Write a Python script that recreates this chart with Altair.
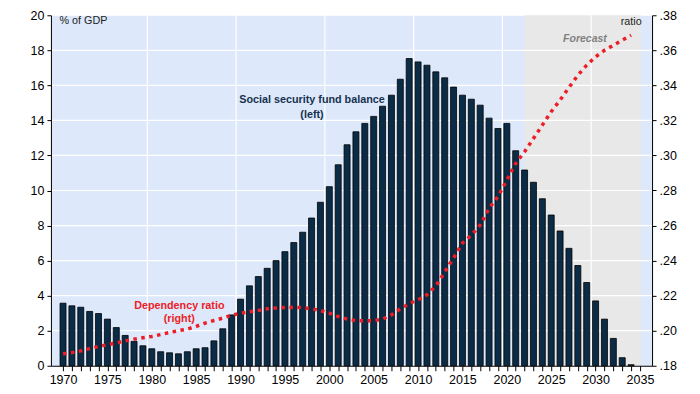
import altair as alt
import pandas as pd

years = list(range(1970, 2035))
balance = [3.57, 3.42, 3.34, 3.10, 2.98, 2.66, 2.18, 1.73, 1.39, 1.14,
           0.97, 0.80, 0.74, 0.68, 0.80, 0.97, 1.03, 1.42, 2.11, 2.90,
           3.80, 4.56, 5.09, 5.56, 6.00, 6.51, 7.03, 7.62, 8.43, 9.33,
           10.22, 11.47, 12.61, 13.35, 13.83, 14.23, 14.81, 15.44, 16.35, 17.53,
           17.34, 17.15, 16.77, 16.43, 15.90, 15.44, 15.21, 14.87, 14.13, 13.54,
           13.83, 12.27, 11.17, 10.47, 9.53, 8.60, 7.69, 6.70, 5.72, 4.75,
           3.70, 2.66, 1.56, 0.46, 0.06]
ratio = [.1868, .1875, .1885, .1898, .1910, .1920, .1930, .1942, .1952, .1960,
         .1967, .1978, .1990, .2000, .2009, .2025, .2043, .2058, .2072, .2088,
         .2100, .2108, .2115, .2125, .2130, .2132, .2132, .2132, .2125, .2115,
         .2100, .2081, .2066, .2058, .2056, .2058, .2066, .2090, .2125, .2155,
         .2176, .2205, .2255, .2335, .2415, .2500, .2545, .2603, .2698, .2765,
         .2860, .2955, .3021, .3097, .3173, .3250, .3316, .3388, .3458, .3515,
         .3563, .3600, .3629, .3658, .3686]

x_ticks = list(range(1970, 2036))
left_ticks = list(range(0, 22, 2))
right_ticks = [0.18, 0.20, 0.22, 0.24, 0.26, 0.28, 0.30, 0.32, 0.34, 0.36, 0.38]
vgrid = [1979.5, 1989.5, 1999.5, 2009.5, 2019.5, 2029.5]
hgrid = [2, 4, 6, 8, 10, 12, 14, 16, 18]
forecast = {"start": [2022.0], "end": [2035.1], "lo": [0], "hi": [20]}

FONT = "Liberation Sans"

df = pd.DataFrame({"year": years, "balance": balance, "ratio": ratio})

xscale = alt.Scale(domain=[1969.2, 2035.8], nice=False, zero=False)
yl = alt.Scale(domain=[0, 20], nice=False)
yr = alt.Scale(domain=[0.18, 0.38], nice=False, zero=False)

common = dict(grid=False, title=None, domain=True, ticks=True,
              domainColor="black", domainWidth=1, tickColor="black", tickWidth=1,
              labelFontSize=12.5, labelColor="black", labelPadding=3,
              labelFont=FONT, zindex=2)
xaxis = alt.Axis(values=x_ticks, format="d", tickSize=5, labelFlush=False,
                 labelOverlap=False,
                 labelExpr="datum.value % 5 == 0 ? datum.label : ''", **common)
yaxis_left = alt.Axis(values=left_ticks, orient="left", tickSize=4, **common)
yaxis_right = alt.Axis(values=right_ticks, orient="right", tickSize=4,
                       labelExpr="slice(format(datum.value, '.2f'), 1)", **common)

X = lambda f: alt.X(f, scale=xscale, axis=xaxis)

grey = alt.Chart(pd.DataFrame(forecast)).mark_rect(color="#e8e8e8").encode(
    x=X("start:Q"),
    x2="end:Q",
    y=alt.Y("lo:Q", scale=yl, axis=None),
    y2="hi:Q",
)

vrules = alt.Chart(pd.DataFrame({"v": vgrid})).mark_rule(color="white", strokeWidth=1.2).encode(
    x=X("v:Q")
)
hrules = alt.Chart(pd.DataFrame({"h": hgrid})).mark_rule(color="white", strokeWidth=1.2).encode(
    y=alt.Y("h:Q", scale=yl, axis=None)
)

bars = alt.Chart(df).mark_bar(size=6, color="#0b2c47", stroke="black", strokeWidth=0.8).encode(
    x=X("year:Q"),
    y=alt.Y("balance:Q", scale=yl, axis=yaxis_left),
)

def txt(x, y, t, color, **kw):
    d = pd.DataFrame({"x": [x], "y": [y], "t": [t]})
    return alt.Chart(d).mark_text(font=FONT, color=color, lineBreak="\n", **kw).encode(
        x=X("x:Q"),
        y=alt.Y("y:Q", scale=yl, axis=None),
        text="t:N",
    )

texts = [
    txt(1998.05, 15.18, "Social security fund balance\n(left)", "#16324f",
        fontSize=10.8, fontWeight="bold", lineHeight=15),
    txt(1983.1, 3.42, "Dependency ratio\n(right)", "#ee1c25",
        fontSize=10.8, fontWeight="bold", lineHeight=13),
    txt(2028.8, 18.63, "Forecast", "#808080", fontSize=10.5, fontWeight="bold", fontStyle="italic"),
    txt(1969.6, 19.66, "% of GDP", "#222222", fontSize=10.8, align="left"),
    txt(2035.2, 19.6, "ratio", "#222222", fontSize=10.8, align="right"),
]

line = alt.Chart(df).mark_line(color="#ee1c25", strokeWidth=3.5, strokeDash=[3.5, 4.5]).encode(
    x=X("year:Q"),
    y=alt.Y("ratio:Q", scale=yr, axis=yaxis_right),
)

chart = alt.layer(grey, vrules, hrules, bars, line, *texts).resolve_scale(y="independent").properties(
    width=602, height=351,
    autosize=alt.AutoSizeParams(type="none"),
    padding={"left": 43, "top": 7, "right": 40, "bottom": 22},
).configure(font=FONT).configure_view(fill="#dde9fb", stroke="transparent")

chart.save("out.html", embed_options={"renderer": "svg", "actions": False})
